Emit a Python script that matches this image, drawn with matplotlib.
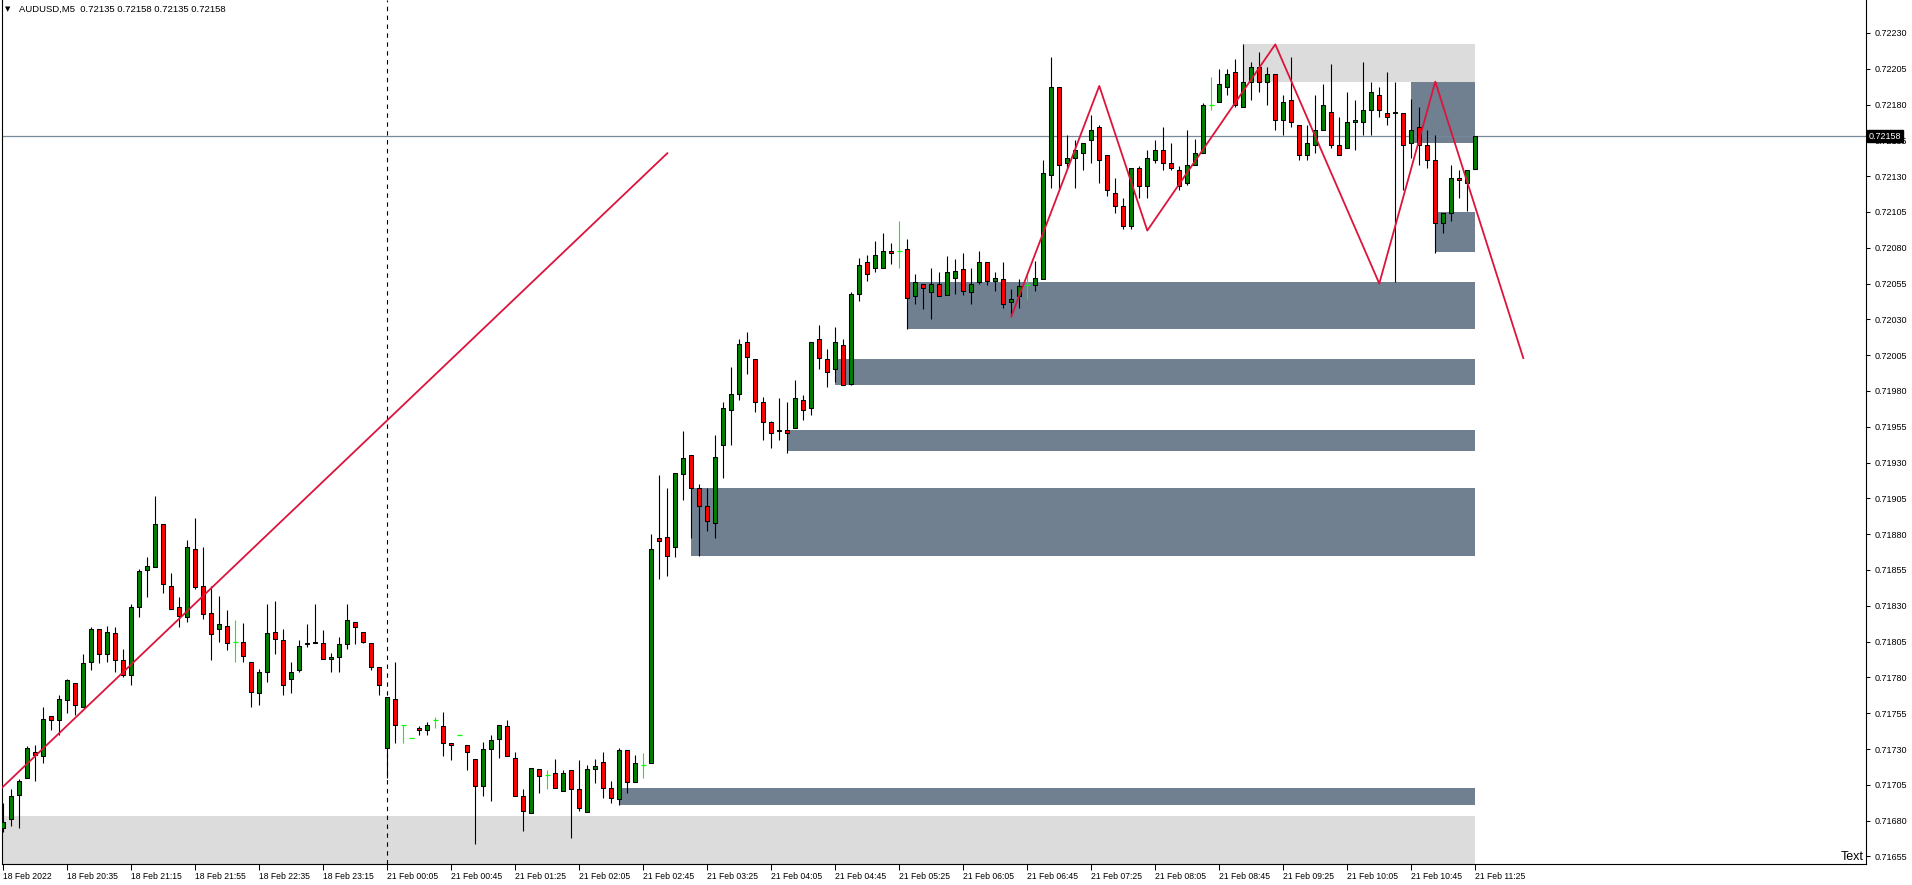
import numpy as np
import matplotlib
matplotlib.use("Agg")
import matplotlib.pyplot as plt
from matplotlib.patches import Rectangle
from matplotlib.transforms import blended_transform_factory

plt.rcParams['font.family'] = ['Liberation Sans', 'DejaVu Sans']

# AUDUSD M5 candles, prices in points (1 point = 0.00001)
opens = [71675, 71681, 71698, 71710, 71728, 71725, 71753, 71750, 71764, 71776,
         71759, 71791, 71814, 71796, 71811, 71792, 71782, 71829, 71855, 71857,
         71887, 71844, 71829, 71822, 71870, 71844, 71825, 71814, 71816, 71805,
         71805, 71791, 71769, 71784, 71812, 71806, 71779, 71785, 71803, 71805,
         71804, 71793, 71794, 71803, 71819, 71812, 71804, 71787, 71731, 71765,
         71747, 71738, 71745, 71743, 71750, 71746, 71734, 71740, 71733, 71723,
         71704, 71730, 71737, 71746, 71724, 71697, 71685, 71716, 71712, 71713,
         71701, 71715, 71702, 71686, 71716, 71721, 71703, 71695, 71729, 71707,
         71719, 71720, 71877, 71878, 71871, 71922, 71935, 71912, 71900, 71888,
         71942, 71967, 71978, 72014, 72002, 71972, 71958, 71952, 71953, 71954,
         71974, 71968, 72016, 72002, 71995, 72012, 71985, 72048, 72070, 72066,
         72066, 72078, 72078, 72079, 72046, 72055, 72049, 72055, 72047, 72059,
         72065, 72049, 72056, 72070, 72057, 72058, 72042, 72046, 72054, 72054,
         72058, 72131, 72192, 72139, 72143, 72146, 72155, 72164, 72145, 72118,
         72109, 72095, 72136, 72123, 72141, 72148, 72139, 72134, 72125, 72138,
         72146, 72180, 72182, 72192, 72203, 72178, 72196, 72206, 72196, 72201,
         72169, 72183, 72166, 72145, 72152, 72162, 72175, 72152, 72150, 72168,
         72168, 72176, 72187, 72174, 72174, 72174, 72153, 72164, 72152, 72141,
         72097, 72104, 72129, 72125, 72135]
highs = [71692, 71702, 71709, 71732, 71733, 71759, 71753, 71768, 71779, 71776,
         71796, 71815, 71814, 71816, 71815, 71800, 71831, 71856, 71864, 71907,
         71887, 71853, 71836, 71876, 71891, 71871, 71844, 71837, 71827, 71820,
         71818, 71791, 71786, 71831, 71833, 71814, 71791, 71806, 71817, 71831,
         71813, 71797, 71808, 71831, 71819, 71812, 71804, 71787, 71766, 71791,
         71747, 71738, 71746, 71749, 71752, 71756, 71734, 71740, 71733, 71723,
         71735, 71740, 71747, 71750, 71728, 71702, 71717, 71716, 71715, 71723,
         71715, 71715, 71722, 71719, 71723, 71728, 71708, 71731, 71729, 71726,
         71727, 71880, 71921, 71912, 71923, 71952, 71935, 71915, 71912, 71949,
         71972, 71997, 72016, 72021, 72002, 71976, 71959, 71975, 71972, 71988,
         71977, 72014, 72026, 72009, 72025, 72016, 72049, 72073, 72075, 72085,
         72090, 72083, 72099, 72086, 72062, 72055, 72066, 72063, 72074, 72072,
         72076, 72066, 72078, 72070, 72063, 72070, 72051, 72058, 72062, 72071,
         72141, 72213, 72192, 72159, 72155, 72153, 72173, 72166, 72145, 72129,
         72115, 72136, 72137, 72148, 72155, 72164, 72153, 72137, 72162, 72156,
         72181, 72199, 72205, 72205, 72212, 72222, 72210, 72217, 72206, 72201,
         72187, 72213, 72166, 72166, 72187, 72194, 72208, 72171, 72189, 72183,
         72210, 72196, 72192, 72203, 72196, 72174, 72184, 72178, 72162, 72159,
         72104, 72138, 72134, 72134, 72158]
lows = [71672, 71676, 71675, 71710, 71708, 71720, 71743, 71740, 71755, 71754,
        71759, 71785, 71790, 71791, 71784, 71780, 71775, 71822, 71836, 71857,
        71839, 71828, 71815, 71819, 71842, 71821, 71792, 71805, 71799, 71791,
        71791, 71759, 71761, 71777, 71796, 71768, 71769, 71784, 71801, 71804,
        71793, 71784, 71784, 71800, 71803, 71804, 71785, 71768, 71710, 71734,
        71734, 71738, 71740, 71740, 71745, 71725, 71722, 71740, 71715, 71664,
        71697, 71694, 71724, 71725, 71697, 71673, 71685, 71699, 71702, 71703,
        71701, 71668, 71687, 71686, 71706, 71696, 71692, 71691, 71699, 71707,
        71710, 71720, 71849, 71851, 71864, 71904, 71877, 71865, 71882, 71877,
        71919, 71942, 71974, 71992, 71965, 71946, 71940, 71946, 71937, 71954,
        71960, 71963, 71995, 71983, 71986, 71984, 71984, 72043, 72057, 72063,
        72066, 72069, 72066, 72023, 72041, 72037, 72030, 72046, 72047, 72048,
        72047, 72041, 72055, 72054, 72050, 72038, 72032, 72038, 72044, 72050,
        72058, 72122, 72120, 72135, 72122, 72134, 72139, 72125, 72116, 72104,
        72093, 72093, 72115, 72115, 72139, 72134, 72134, 72120, 72124, 72138,
        72146, 72176, 72182, 72187, 72178, 72178, 72183, 72189, 72180, 72162,
        72159, 72164, 72141, 72141, 72146, 72162, 72150, 72145, 72150, 72148,
        72159, 72159, 72171, 72166, 72056, 72120, 72143, 72138, 72136, 72076,
        72090, 72099, 72115, 72106, 72135]
closes = [71679, 71697, 71708, 71731, 71726, 71751, 71750, 71765, 71778, 71761,
          71790, 71814, 71796, 71812, 71792, 71782, 71829, 71854, 71858, 71887,
          71845, 71828, 71823, 71871, 71843, 71824, 71810, 71817, 71804, 71805,
          71795, 71770, 71784, 71811, 71807, 71775, 71784, 71802, 71804, 71804,
          71793, 71794, 71803, 71820, 71815, 71805, 71787, 71775, 71766, 71747,
          71747, 71738, 71743, 71747, 71750, 71734, 71733, 71740, 71728, 71704,
          71730, 71736, 71747, 71725, 71697, 71687, 71717, 71711, 71712, 71703,
          71713, 71702, 71689, 71716, 71718, 71703, 71696, 71729, 71707, 71720,
          71719, 71870, 71875, 71865, 71923, 71933, 71912, 71900, 71889, 71934,
          71968, 71978, 72013, 72004, 71972, 71958, 71951, 71953, 71951, 71975,
          71967, 72014, 72003, 71993, 72014, 71984, 72048, 72068, 72062, 72075,
          72078, 72076, 72078, 72045, 72056, 72052, 72055, 72046, 72063, 72064,
          72050, 72055, 72070, 72057, 72059, 72041, 72044, 72053, 72054, 72059,
          72132, 72192, 72138, 72143, 72148, 72153, 72162, 72141, 72120, 72109,
          72095, 72136, 72123, 72143, 72148, 72139, 72136, 72123, 72138, 72146,
          72180, 72180, 72194, 72201, 72180, 72196, 72206, 72196, 72201, 72169,
          72182, 72168, 72145, 72153, 72162, 72180, 72152, 72145, 72168, 72169,
          72176, 72189, 72176, 72171, 72175, 72152, 72162, 72152, 72141, 72097,
          72104, 72129, 72127, 72134, 72158]

time_labels = ["18 Feb 2022", "18 Feb 20:35", "18 Feb 21:15", "18 Feb 21:55",
               "18 Feb 22:35", "18 Feb 23:15", "21 Feb 00:05", "21 Feb 00:45",
               "21 Feb 01:25", "21 Feb 02:05", "21 Feb 02:45", "21 Feb 03:25",
               "21 Feb 04:05", "21 Feb 04:45", "21 Feb 05:25", "21 Feb 06:05",
               "21 Feb 06:45", "21 Feb 07:25", "21 Feb 08:05", "21 Feb 08:45",
               "21 Feb 09:25", "21 Feb 10:05", "21 Feb 10:45", "21 Feb 11:25"]

# supply/demand boxes: start bar, low, high (points); all end at the last bar
zone_start = [77, 86, 98, 104, 113, 179, 176]
zone_low = [71691, 71865, 71938, 71984, 72023, 72077, 72153]
zone_high = [71703, 71912, 71953, 72002, 72056, 72105, 72196]
light_start = [-5, 155]
light_low = [71600, 72196]
light_high = [71683, 72222]

# trend line and zigzag (bar index, points)
trend_bars = [-0.16, 83]
trend_prices = [71703, 72146]
zz_bars = [126, 137, 143, 159, 172, 179, 190]
zz_prices = [72032, 72193, 72092, 72222, 72055, 72196, 72003]

last_price = 72158
separator_bar = 48

o = np.array(opens) / 1e5
h = np.array(highs) / 1e5
l = np.array(lows) / 1e5
c = np.array(closes) / 1e5
x = np.arange(len(o))
end_bar = x[-1]

fig = plt.figure(figsize=(19.12, 8.85), dpi=100)
ax = fig.add_axes([2 / 1912, 21 / 885, 1864 / 1912, 864 / 885])
ax.set_xlim(-0.1625, 232.84)
ax.set_ylim(0.716497, 0.72253)

for s, lo, hi in zip(light_start, light_low, light_high):
    ax.add_patch(Rectangle((s, lo / 1e5), end_bar - s, (hi - lo) / 1e5,
                           facecolor='#dcdcdc', edgecolor='none', zorder=0.5))
for s, lo, hi in zip(zone_start, zone_low, zone_high):
    ax.add_patch(Rectangle((s, lo / 1e5), end_bar - s, (hi - lo) / 1e5,
                           facecolor='#708090', edgecolor='none', zorder=0.6))

ax.axvline(separator_bar, color='black', lw=0.8, ls=(0, (4, 4)), zorder=1)
ax.axhline(last_price / 1e5, color='#778899', lw=0.9, zorder=1.5)

doji = o == c
up = (c > o) & ~doji
down = (c < o) & ~doji

ax.vlines(x[~doji], l[~doji], h[~doji], color='black', lw=0.8, zorder=2)
ax.bar(x[up], (c - o)[up], bottom=o[up], width=0.5, color='#008000',
       edgecolor='black', linewidth=0.75, zorder=3)
ax.bar(x[down], (o - c)[down], bottom=c[down], width=0.5, color='#ff0000',
       edgecolor='black', linewidth=0.75, zorder=3)
ax.vlines(x[doji], l[doji], h[doji], color='#00ff00', lw=0.8, zorder=2)
ax.hlines(c[doji], x[doji] - 0.3, x[doji] + 0.3, color='#00ff00', lw=0.9, zorder=3)

ax.plot(trend_bars, np.array(trend_prices) / 1e5, color='#dc143c', lw=1.3, zorder=4)
ax.plot(zz_bars, np.array(zz_prices) / 1e5, color='#dc143c', lw=1.3, zorder=4)

# axes look
for side in ['left', 'right', 'bottom']:
    ax.spines[side].set_color('black')
    ax.spines[side].set_linewidth(0.8)
ax.spines['top'].set_visible(False)

yt = np.arange(71655, 72231, 25)
ax.set_yticks(yt / 1e5)
ax.set_yticklabels([f"{v / 1e5:.5f}" for v in yt])
ax.yaxis.tick_right()
ax.tick_params(axis='y', direction='out', length=3, width=0.75, pad=3,
               labelsize=6.5, colors='black')

ax.set_xticks(np.arange(0, len(time_labels) * 8, 8))
ax.set_xticklabels(time_labels)
for lbl in ax.get_xticklabels():
    lbl.set_horizontalalignment('left')
ax.tick_params(axis='x', direction='out', length=4, width=0.75, pad=2,
               labelsize=6.2, colors='black')

tr = blended_transform_factory(ax.transAxes, ax.transData)
ax.text(1.0015, last_price / 1e5, f"{last_price / 1e5:.5f}", transform=tr,
        color='white', fontsize=6.5, va='center', ha='left',
        bbox=dict(facecolor='black', edgecolor='black', pad=1.0), zorder=10)

fig.text(5 / 1912, 1 - 9 / 885, "\u25bc", fontsize=5, va='center', ha='left',
         family='DejaVu Sans')
fig.text(19 / 1912, 1 - 9 / 885,
         "AUDUSD,M5  0.72135 0.72158 0.72135 0.72158",
         fontsize=6.8, va='center', ha='left')
fig.text(1864 / 1912, 1 - 857 / 885, "Text", fontsize=9, va='center', ha='right')

fig.savefig("out.png", dpi=100)
